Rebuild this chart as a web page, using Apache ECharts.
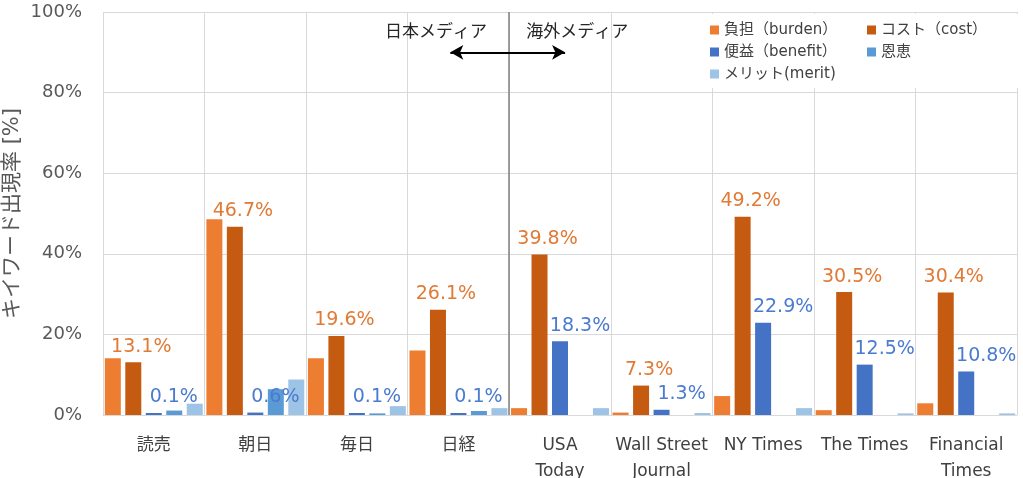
<!DOCTYPE html>
<html>
<head>
<meta charset="utf-8">
<script src="https://cdn.jsdelivr.net/npm/echarts@6/dist/echarts.min.js"></script>
<style>
  html, body { margin: 0; padding: 0; background: #fff; }
  #chart { width: 1023px; height: 478px; }
</style>
</head>
<body>
<div id="chart"></div>
<script>
const categories = ['読売', '朝日', '毎日', '日経', 'USA\nToday', 'Wall Street\nJournal', 'NY Times', 'The Times', 'Financial\nTimes'];
const seriesNames = ['負担（burden）', 'コスト（cost）', '便益（benefit）', '恩恵', 'メリット(merit)'];
const burden = [14.1, 48.6, 14.1, 16.0, 1.7, 0.6, 4.7, 1.2, 2.9];
const cost = [13.1, 46.7, 19.6, 26.1, 39.8, 7.3, 49.2, 30.5, 30.4];
const benefit = [0.1, 0.6, 0.1, 0.1, 18.3, 1.3, 22.9, 12.5, 10.8];
const onkei = [1.1, 6.4, 0.4, 1.0, 0, 0, 0, 0, 0];
const merit = [2.8, 8.8, 2.2, 1.7, 1.7, 0.5, 1.7, 0.4, 0.4];
const yTicks = [0, 20, 40, 60, 80, 100];

const FONT = "'DejaVu Sans', 'Noto Sans CJK JP', sans-serif";
const colors = ['#ED7D31', '#C55A11', '#4472C4', '#5B9BD5', '#9DC3E6'];

const chart = echarts.init(document.getElementById('chart'));

const makeBar = (name, data, color, label) => ({
  name,
  type: 'bar',
  data,
  barWidth: 16,
  barGap: '28%',
  itemStyle: { color },
  label: label || { show: false },
});

const option = {
  animation: false,
  textStyle: { fontFamily: FONT },
  grid: { left: 103, right: 6, top: 12, bottom: 63, containLabel: false, outerBoundsMode: 'none' },
  legend: {
    data: seriesNames,
    left: 702,
    top: 14,
    width: 320,
    orient: 'horizontal',
    icon: 'rect',
    itemWidth: 9,
    itemHeight: 9,
    itemGap: 0,
    backgroundColor: '#fff',
    padding: [5, 6, 3, 8],
    textStyle: { fontSize: 15, color: '#404040', width: 143, lineHeight: 22, fontFamily: FONT },
  },
  xAxis: [
    {
      type: 'category',
      data: categories,
      axisLine: { lineStyle: { color: '#d9d9d9' } },
      axisTick: { show: false },
      splitLine: { show: true, lineStyle: { color: '#d9d9d9' } },
      axisLabel: { interval: 0, fontSize: 17, color: '#404040', lineHeight: 26, margin: 18, fontFamily: FONT },
    },
    { type: 'value', min: 0, max: 9, show: false },
  ],
  yAxis: {
    type: 'value',
    min: yTicks[0],
    max: yTicks[yTicks.length - 1],
    interval: 20,
    name: 'キイワード出現率 [%]',
    nameLocation: 'middle',
    nameGap: 80,
    nameMoveOverlap: false,
    nameTextStyle: { fontSize: 21, color: '#595959', fontFamily: FONT },
    axisLine: { show: false },
    axisTick: { show: false },
    splitLine: { lineStyle: { color: '#d9d9d9' } },
    axisLabel: { formatter: '{value}%', fontSize: 18, color: '#595959', margin: 21 },
  },
  series: [
    makeBar(seriesNames[0], burden, colors[0]),
    makeBar(seriesNames[1], cost, colors[1], {
      show: true, position: 'top', distance: 6, offset: [8, 0],
      formatter: '{c}%', fontSize: 19, color: '#E07A35', fontFamily: FONT,
    }),
    Object.assign(makeBar(seriesNames[2], benefit, colors[2], {
      show: true, position: 'top', distance: 6, offset: [20, 0],
      formatter: '{c}%', fontSize: 19, color: '#4A7BD0', fontFamily: FONT,
    }), { barMinHeight: 2 }),
    makeBar(seriesNames[3], onkei, colors[3]),
    makeBar(seriesNames[4], merit, colors[4]),
    {
      // 日本メディア / 海外メディア の区切り
      type: 'scatter',
      xAxisIndex: 1,
      yAxisIndex: 0,
      data: [],
      silent: true,
      markLine: {
        silent: true,
        animation: false,
        symbol: ['none', 'none'],
        label: { show: false },
        lineStyle: { color: '#000', width: 2, type: 'solid' },
        data: [
          { xAxis: 4, lineStyle: { color: '#7f7f7f', width: 1.5, type: 'solid' } },
          [
            { coord: [3.42, 90], symbol: 'arrow', symbolSize: [11, 13] },
            { coord: [4.55, 90], symbol: 'arrow', symbolSize: [11, 13] },
          ],
        ],
      },
      markPoint: {
        silent: true,
        symbol: 'circle',
        symbolSize: 0,
        label: {
          show: true, position: 'inside', formatter: '{b}',
          fontSize: 17, color: '#262626', fontFamily: FONT,
        },
        data: [
          { name: '日本メディア', coord: [3.28, 95] },
          { name: '海外メディア', coord: [4.67, 95] },
        ],
      },
    },
  ],
};

chart.setOption(option);
</script>
</body>
</html>
